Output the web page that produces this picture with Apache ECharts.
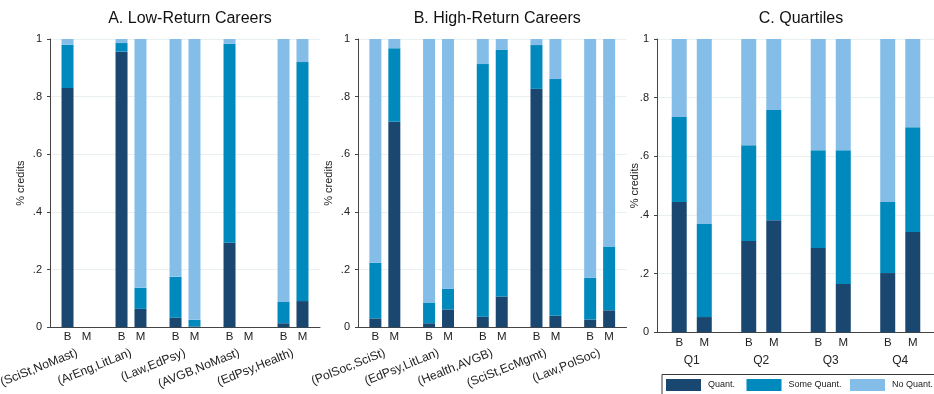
<!DOCTYPE html>
<html>
<head>
<meta charset="utf-8">
<script src="https://cdn.jsdelivr.net/npm/echarts@6/dist/echarts.min.js"></script>
<style>
  html, body { margin: 0; padding: 0; background: #fff; }
  #chart { width: 934px; height: 394px; }
</style>
</head>
<body>
<div id="chart"></div>
<script>
// Share of credits by quantitative content, Bachelor (B) vs Master (M)

// Panel A: low-return careers
const catsA = ['(SciSt,NoMast)', '(ArEng,LitLan)', '(Law,EdPsy)', '(AVGB,NoMast)', '(EdPsy,Health)'];
const quantBA = [0.830, 0.956, 0.033, 0.293, 0.014];
const someBA  = [0.150, 0.030, 0.142, 0.690, 0.074];
const noBA    = [0.020, 0.014, 0.825, 0.017, 0.912];
const quantMA = [0, 0.064, 0.003, 0, 0.091];
const someMA  = [0, 0.073, 0.023, 0, 0.829];
const noMA    = [0, 0.863, 0.974, 0, 0.080];

// Panel B: high-return careers
const catsB = ['(PolSoc,SciSt)', '(EdPsy,LitLan)', '(Health,AVGB)', '(SciSt,EcMgmt)', '(Law,PolSoc)'];
const quantBB = [0.031, 0.014, 0.037, 0.827, 0.027];
const someBB  = [0.193, 0.072, 0.876, 0.152, 0.145];
const noBB    = [0.776, 0.914, 0.087, 0.021, 0.828];
const quantMB = [0.713, 0.062, 0.107, 0.040, 0.059];
const someMB  = [0.255, 0.072, 0.855, 0.821, 0.221];
const noMB    = [0.032, 0.866, 0.038, 0.139, 0.720];

// Panel C: quartiles
const catsC = ['Q1', 'Q2', 'Q3', 'Q4'];
const quantBC = [0.444, 0.311, 0.287, 0.202];
const someBC  = [0.290, 0.327, 0.334, 0.242];
const noBC    = [0.266, 0.362, 0.379, 0.556];
const quantMC = [0.052, 0.382, 0.165, 0.342];
const someMC  = [0.317, 0.376, 0.456, 0.357];
const noMC    = [0.631, 0.242, 0.379, 0.301];

const yTicks = { 0: '0', 0.2: '.2', 0.4: '.4', 0.6: '.6', 0.8: '.8', 1: '1' };
const levelNames = ['Quant.', 'Some Quant.', 'No Quant.'];
const colors = ['#1a476f', '#0089bc', '#84bee8'];
const FONT = 'Liberation Sans, Arial, sans-serif';

const panels = [
  { title: 'A. Low-Return Careers', cats: catsA, B: [quantBA, someBA, noBA], M: [quantMA, someMA, noMA],
    grid: { left: 50, top: 39, width: 270, height: 288.3 }, barWidth: 12, barGap: '58%', rotate: true, nameGap: 24 },
  { title: 'B. High-Return Careers', cats: catsB, B: [quantBB, someBB, noBB], M: [quantMB, someMB, noMB],
    grid: { left: 358, top: 39, width: 268.5, height: 288.3 }, barWidth: 12, barGap: '58%', rotate: true, nameGap: 24 },
  { title: 'C. Quartiles', cats: catsC, B: [quantBC, someBC, noBC], M: [quantMC, someMC, noMC],
    grid: { left: 657, top: 39, width: 278, height: 293.3 }, barWidth: 15, barGap: '67%', rotate: false, nameGap: 16.5 }
];

const option = {
  animation: false,
  backgroundColor: '#fff',
  textStyle: { fontFamily: FONT },
  title: [],
  grid: [],
  xAxis: [],
  yAxis: [],
  series: [],
  legend: [],
  graphic: [{
    type: 'rect', left: 661.5, top: 374, z: 0,
    shape: { width: 300, height: 40 },
    style: { fill: '#fff', stroke: '#3a3a3a', lineWidth: 1 }
  }]
};

panels.forEach((p, i) => {
  option.title.push({
    text: p.title,
    left: p.grid.left + p.grid.width / 2,
    top: 6,
    textAlign: 'center',
    textStyle: { fontFamily: FONT, fontSize: 16, fontWeight: 'normal', color: '#111' }
  });
  option.grid.push(Object.assign({ containLabel: false, outerBoundsMode: 'none' }, p.grid));
  option.xAxis.push({
    type: 'category', gridIndex: i, data: p.cats,
    axisLine: { lineStyle: { color: '#444', width: 1 } },
    axisTick: { show: false },
    axisLabel: p.rotate
      ? { rotate: 22, margin: 25, fontSize: 12.2, color: '#222', fontFamily: FONT, interval: 0 }
      : { margin: 22, fontSize: 12, color: '#222', fontFamily: FONT, interval: 0 }
  });
  option.yAxis.push({
    type: 'value', gridIndex: i, min: 0, max: 1, interval: 0.2,
    name: '% credits', nameLocation: 'middle', nameGap: p.nameGap, nameRotate: 90,
    nameMoveOverlap: false,
    nameTextStyle: { fontSize: 11, color: '#222', fontFamily: FONT },
    axisLine: { show: true, lineStyle: { color: '#444', width: 1 } },
    axisTick: { show: true, length: 3, lineStyle: { color: '#444' } },
    axisLabel: { margin: 8, fontSize: 11, color: '#222', fontFamily: FONT,
      formatter: v => yTicks[Math.round(v * 10) / 10] ?? '' },
    splitLine: { show: true, lineStyle: { color: '#e8f0f2', width: 1 } }
  });
  [['B', p.B], ['M', p.M]].forEach(([deg, vals]) => {
    vals.forEach((arr, k) => {
      option.series.push({
        type: 'bar', name: levelNames[k], xAxisIndex: i, yAxisIndex: i,
        stack: 'p' + i + deg, data: arr,
        barWidth: p.barWidth, barGap: p.barGap,
        itemStyle: { color: colors[k] },
        label: k === 0 ? {
          show: true, position: 'bottom', distance: p.rotate ? 4 : 5,
          formatter: deg, fontSize: 11.5, color: '#222', fontFamily: FONT
        } : { show: false }
      });
    });
  });
});

// Legend entries laid out in fixed columns
[[666, 'Quant.'], [746.5, 'Some Quant.'], [850, 'No Quant.']].forEach(([x, name]) => {
  option.legend.push({
    data: [{ name: name, icon: 'rect' }],
    left: x, top: 379, padding: 0,
    itemWidth: 35, itemHeight: 12, selectedMode: false,
    textStyle: { fontSize: 9, color: '#222', fontFamily: FONT, padding: [0, 0, 0, 2] }
  });
});

const chart = echarts.init(document.getElementById('chart'), null, { renderer: 'canvas' });
chart.setOption(option);
</script>
</body>
</html>
